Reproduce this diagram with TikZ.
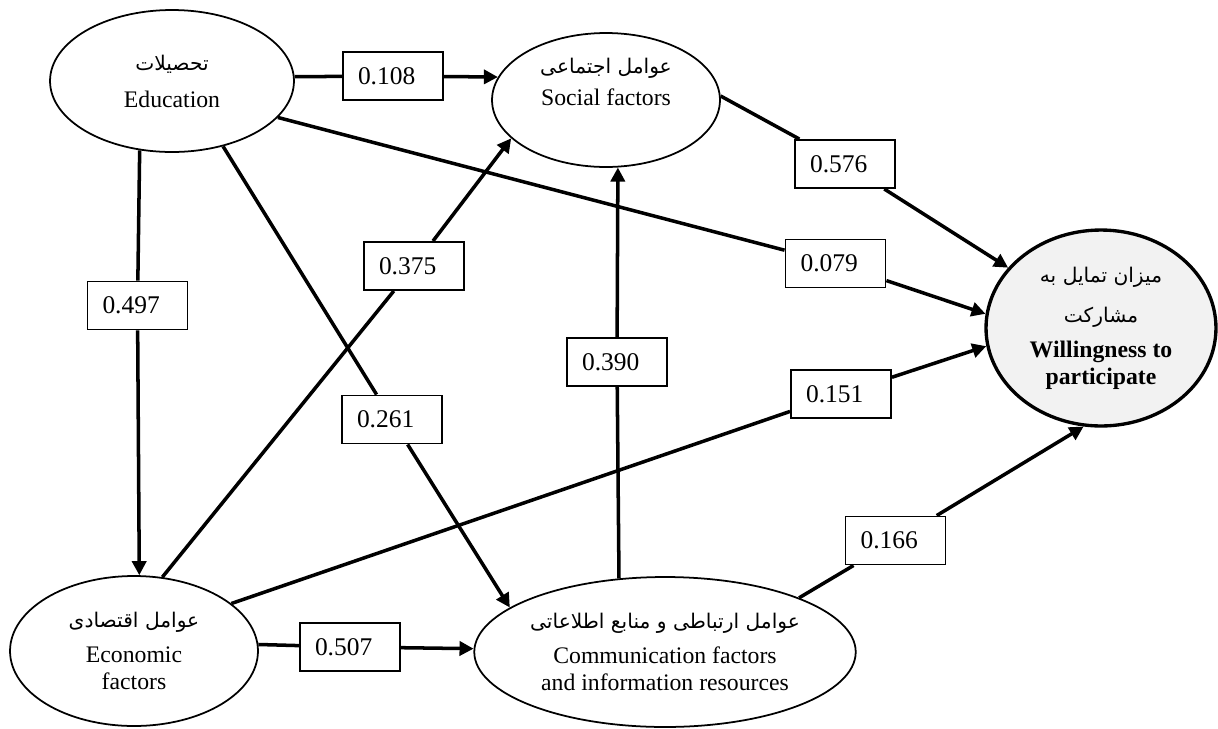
\documentclass[tikz,border=0pt]{standalone}
\usepackage{fontspec}
\setmainfont{Liberation Serif}
\newfontfamily\fafont[Script=Arabic]{DejaVu Sans}
\TeXXeTstate=1
\usetikzlibrary{arrows.meta,shapes.geometric}

\newcommand{\fatext}[1]{{\fafont\fontsize{11.5}{14}\selectfont\beginR #1\endR}}

\begin{document}
\begin{tikzpicture}[->,>={Triangle[length=8pt,width=8pt]},line width=2pt,
                    x=0.02cm,y=-0.02cm,
                    factor/.style={ellipse,draw,line width=1pt,inner sep=0pt,align=center,
                                   font=\fontsize{13.5}{15}\selectfont},
                    coef/.style={rectangle,draw,line width=1.1pt,fill=white,inner xsep=0.3cm,
                                 inner ysep=0pt,text width=1.4cm,minimum height=0.96cm,
                                 align=left,font=\fontsize{14.5}{17}\selectfont}]
 % \tikzstyle{every edge}=[draw,line width=2pt]
  \useasboundingbox (0,0) rectangle (1218,728);

  \node[factor,minimum width=4.88cm,minimum height=2.84cm] (edu)  at (172,81)  {\fatext{تحصیلات}\\[6pt] Education};
  \node[factor,minimum width=4.56cm,minimum height=2.68cm] (soc)  at (606,100) {\fatext{عوامل اجتماعی}\\[3pt] Social factors\\[6pt]};
  \node[factor,minimum width=4.96cm,minimum height=3cm]    (econ) at (134,651) {\fatext{عوامل اقتصادی}\\[5pt] Economic\\ factors};
  \node[factor,minimum width=7.52cm,minimum height=3cm]    (comm) at (665,652) {\fatext{عوامل ارتباطی و منابع اطلاعاتی}\\[5pt] Communication factors\\ and information resources};
  \node[factor,minimum width=4.6cm,minimum height=3.92cm,line width=1.9pt,fill=black!5]
                                                           (will) at (1101,328) {\fatext{میزان تمایل به}\\[8pt] \fatext{مشارکت}\\[5pt] \textbf{Willingness to}\\ \textbf{participate}};

  \node[coef] (b108) at (393,76)    {0.108};
  \node[coef] (b497) at (137.5,305.5) {0.497};
  \node[coef] (b375) at (414,266)   {0.375};
  \node[coef] (b576) at (845,164)   {0.576};
  \node[coef] (b079) at (835.5,263.5) {0.079};
  \node[coef] (b390) at (617,362)   {0.390};
  \node[coef] (b151) at (841,394)   {0.151};
  \node[coef] (b261) at (392,419.5) {0.261};
  \node[coef] (b166) at (895.5,540.5) {0.166};
  \node[coef] (b507) at (350,647)   {0.507};

  \path (edu.2)    edge [-] (b108);
  \path (b108)     edge     (soc.168);
  \path (edu.-115) edge [-] (b497);
  \path (b497)     edge     (econ.86);
  \path (edu.-19)  edge [-] (b079);
  \path (b079)     edge     (will.173);
  \path (edu.-52)  edge [-] (b261);
  \path (b261)     edge     (comm.164);
  \path (econ.69)  edge [-] (b375);
  \path (b375)     edge     (soc.202);
  \path (econ.26)  edge [-] (b151);
  \path (b151)     edge     (will.189);
  \path (econ.3)   edge [-] (b507);
  \path (b507)     edge     (comm.179);
  \path (comm.122) edge [-] (b390);
  \path (b390)     edge     (soc.-80);
  \path (comm.22)  edge [-] (b166);
  \path (b166)     edge     (will.260);
  \path (soc.2)    edge [-] (b576);
  \path (b576)     edge     (will.147);
\end{tikzpicture}
\end{document}
